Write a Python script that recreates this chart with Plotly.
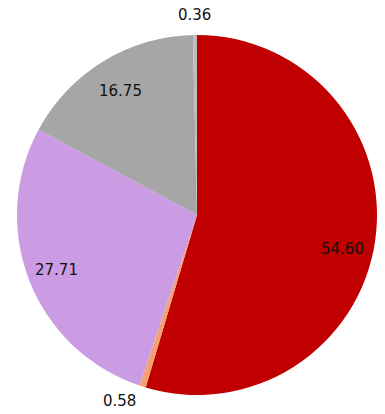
import math
import plotly.graph_objects as go

# Share of each segment (percent), drawn clockwise from 12 o'clock
segments = ["A", "B", "C", "D", "E"]
shares = [54.60, 0.58, 27.71, 16.75, 0.36]
colors = ["#C00000", "#F4A070", "#CB9BE3", "#A6A6A6", "#BDBDBD"]

# Label placement: fraction of the radius at which each value label sits,
# plus a small angular nudge (degrees) off the slice bisector
label_radius = [0.83, 1.12, 0.84, 0.81, 1.11]
label_nudge = [5, 5, 0, 0, 0]

W, H = 385, 414
cx, cy, r = 197, 215, 180  # pie centre and radius in pixels

fig = go.Figure(
    go.Pie(
        labels=segments,
        values=shares,
        sort=False,
        direction="clockwise",
        rotation=0,
        marker=dict(colors=colors, line=dict(width=0)),
        textinfo="none",
        domain=dict(x=[(cx - r) / W, (cx + r) / W], y=[1 - (cy + r) / H, 1 - (cy - r) / H]),
        showlegend=False,
        hoverinfo="label+value",
    )
)

# Value labels placed along each slice's bisector
total = sum(shares)
cum = 0.0
for v, rf, dn in zip(shares, label_radius, label_nudge):
    mid = (cum + v / 2) / total * 2 * math.pi + math.radians(dn)
    cum += v
    px = cx + rf * r * math.sin(mid)
    py = cy - rf * r * math.cos(mid)
    fig.add_annotation(
        x=px / W, y=1 - py / H, xref="paper", yref="paper",
        text=f"{v:.2f}", showarrow=False,
        font=dict(family="DejaVu Sans", size=15, color="#111111"),
        xanchor="center", yanchor="middle",
    )

fig.update_layout(
    width=W,
    height=H,
    margin=dict(l=0, r=0, t=0, b=0),
    paper_bgcolor="white",
    plot_bgcolor="white",
    showlegend=False,
)

fig.write_html("out.html")
